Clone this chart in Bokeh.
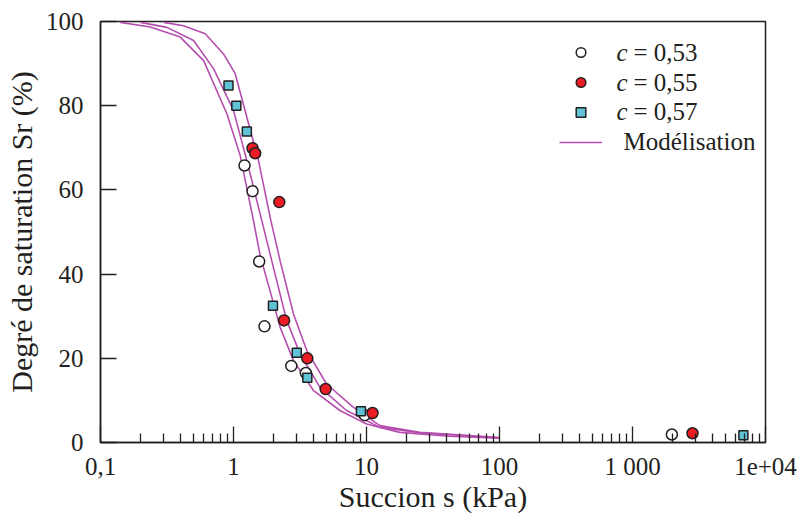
from bokeh.plotting import figure
from bokeh.models import FixedTicker, Legend, LegendItem, Label
from bokeh.embed import file_html
from bokeh.resources import INLINE

# ---------------- data ----------------
# measured points (suction s in kPa, degree of saturation Sr in %)
c053_s = [1.21, 1.39, 1.56, 1.71, 2.72, 3.5, 9.7, 1977]
c053_sr = [65.8, 59.7, 43.0, 27.6, 18.2, 16.5, 6.5, 1.9]

c055_s = [1.39, 1.455, 2.21, 2.40, 3.59, 4.93, 11.1, 2825]
c055_sr = [69.9, 68.7, 57.1, 29.0, 20.0, 12.7, 7.0, 2.2]

c057_s = [0.917, 1.05, 1.26, 1.98, 2.99, 3.59, 9.08, 6820]
c057_sr = [84.8, 80.0, 73.9, 32.5, 21.3, 15.4, 7.4, 1.7]

# model curves ("Modélisation")
model_a_s = [0.141, 0.237, 0.398, 0.596, 0.892, 1.122, 1.413, 1.585, 2.24, 2.82, 3.98, 6.31, 10, 17.8, 42, 100]
model_a_sr = [99.8, 98.7, 96.3, 90.7, 78.1, 68.2, 52.7, 44.5, 27.4, 19.5, 12.4, 7.6, 4.4, 2.4, 1.5, 1.0]

model_b_s = [0.2, 0.316, 0.501, 0.708, 1.0, 1.259, 1.633, 1.995, 2.51, 3.16, 4.47, 7.08, 12.6, 25.1, 100]
model_b_sr = [99.8, 98.6, 95.5, 88.8, 78.9, 67.0, 52.7, 41.6, 29.0, 21.1, 13.1, 7.6, 3.6, 2.3, 1.1]

model_c_s = [0.299, 0.42, 0.613, 0.841, 1.03, 1.259, 1.54, 1.91, 2.24, 2.82, 3.55, 5.01, 7.94, 12.6, 25.1, 100]
model_c_sr = [99.8, 99.0, 97.1, 92.3, 87.6, 77.3, 67.0, 52.7, 43.2, 30.6, 21.9, 13.9, 8.4, 4.0, 2.4, 1.2]

x_ticks = [0.1, 1, 10, 100, 1000, 10000]
x_tick_labels = ["0,1", "1", "10", "100", "1 000", "1e+04"]
y_ticks = [0, 20, 40, 60, 80, 100]

legend_symbol = "c"
legend_values = ["= 0,53", "= 0,55", "= 0,57"]
legend_model = "Modélisation"

x_title = "Succion s (kPa)"
y_title = "Degré de saturation Sr (%)"

# ---------------- style ----------------
TXT = "#231f20"
FONT = "Liberation Serif"
CURVE = "#b64eae"

p = figure(x_axis_type="log", x_range=(0.1, 1e4), y_range=(0, 100),
           frame_width=665, frame_height=421,
           min_border_left=100, min_border_right=32, min_border_top=21, min_border_bottom=71,
           output_backend="svg", toolbar_location=None)

p.xgrid.visible = False
p.ygrid.visible = False
p.outline_line_color = TXT
p.outline_line_width = 1.5
p.background_fill_color = "white"
p.border_fill_color = "white"

minor = []
for i in range(len(x_ticks) - 1):
    for k in range(2, 10):
        minor.append(x_ticks[i] * k)
p.xaxis.ticker = FixedTicker(ticks=x_ticks, minor_ticks=minor)
p.xaxis.major_label_overrides = {t: l for t, l in zip(x_ticks, x_tick_labels)}
p.yaxis.ticker = FixedTicker(ticks=y_ticks)

for ax in (p.xaxis[0], p.yaxis[0]):
    ax.axis_line_color = TXT
    ax.axis_line_width = 1.5
    ax.major_tick_line_color = TXT
    ax.major_tick_line_width = 1.3
    ax.minor_tick_line_color = TXT
    ax.minor_tick_line_width = 1.3
    ax.major_tick_in = 16
    ax.major_tick_out = 0
    ax.minor_tick_in = 9
    ax.minor_tick_out = 0
    ax.major_label_text_font = FONT
    ax.major_label_text_font_size = "25px"
    ax.major_label_text_color = TXT
    ax.axis_label_text_font = FONT
    ax.axis_label_text_font_size = "30px"
    ax.axis_label_text_font_style = "normal"
    ax.axis_label_text_color = TXT
p.yaxis.minor_tick_line_color = None
p.yaxis.major_label_standoff = 17
p.xaxis.major_label_standoff = 10
p.xaxis.axis_label = x_title
p.yaxis.axis_label = y_title
p.xaxis.axis_label_standoff = -3
p.yaxis.axis_label_standoff = 5

# model curves
lr = None
for xs, ys in ((model_a_s, model_a_sr), (model_b_s, model_b_sr), (model_c_s, model_c_sr)):
    r = p.line(xs, ys, line_color=CURVE, line_width=1.6)
    if lr is None:
        lr = r

# measured points
r1 = p.scatter(c053_s, c053_sr, marker="circle", size=11, fill_color="white",
               line_color=TXT, line_width=1.5)
r2 = p.scatter(c055_s, c055_sr, marker="circle", size=11, fill_color="#ec1c24",
               line_color=TXT, line_width=1.5)
r3 = p.scatter(c057_s, c057_sr, marker="square", size=9, fill_color="#5ec4d6",
               line_color=TXT, line_width=1.5)

# legend: glyphs from Bokeh's Legend, texts as labels (italic symbol c)
legend = Legend(items=[LegendItem(label=" ", renderers=[r1]),
                       LegendItem(label=" ", renderers=[r2]),
                       LegendItem(label=" ", renderers=[r3]),
                       LegendItem(label=" ", renderers=[lr])],
                location=(459, 285), glyph_width=43, glyph_height=24, label_height=30,
                spacing=0, padding=0, margin=0, border_line_color=None,
                background_fill_alpha=0, label_standoff=13,
                label_text_font=FONT, label_text_font_size="25px", label_text_color=TXT)
p.add_layout(legend)

def lab(x, y, text, style="normal"):
    p.add_layout(Label(x=x, y=y, x_units="screen", y_units="screen", text=text,
                       text_font=FONT, text_font_size="25px", text_font_style=style,
                       text_color=TXT, text_align="left", text_baseline="middle"))

row_y = [390, 360.5, 331, 301]
for i, v in enumerate(legend_values):
    lab(516, row_y[i], legend_symbol, style="italic")
    lab(533, row_y[i], v)
lab(523, row_y[3], legend_model)

open("out.html", "w").write(file_html(p, INLINE))
